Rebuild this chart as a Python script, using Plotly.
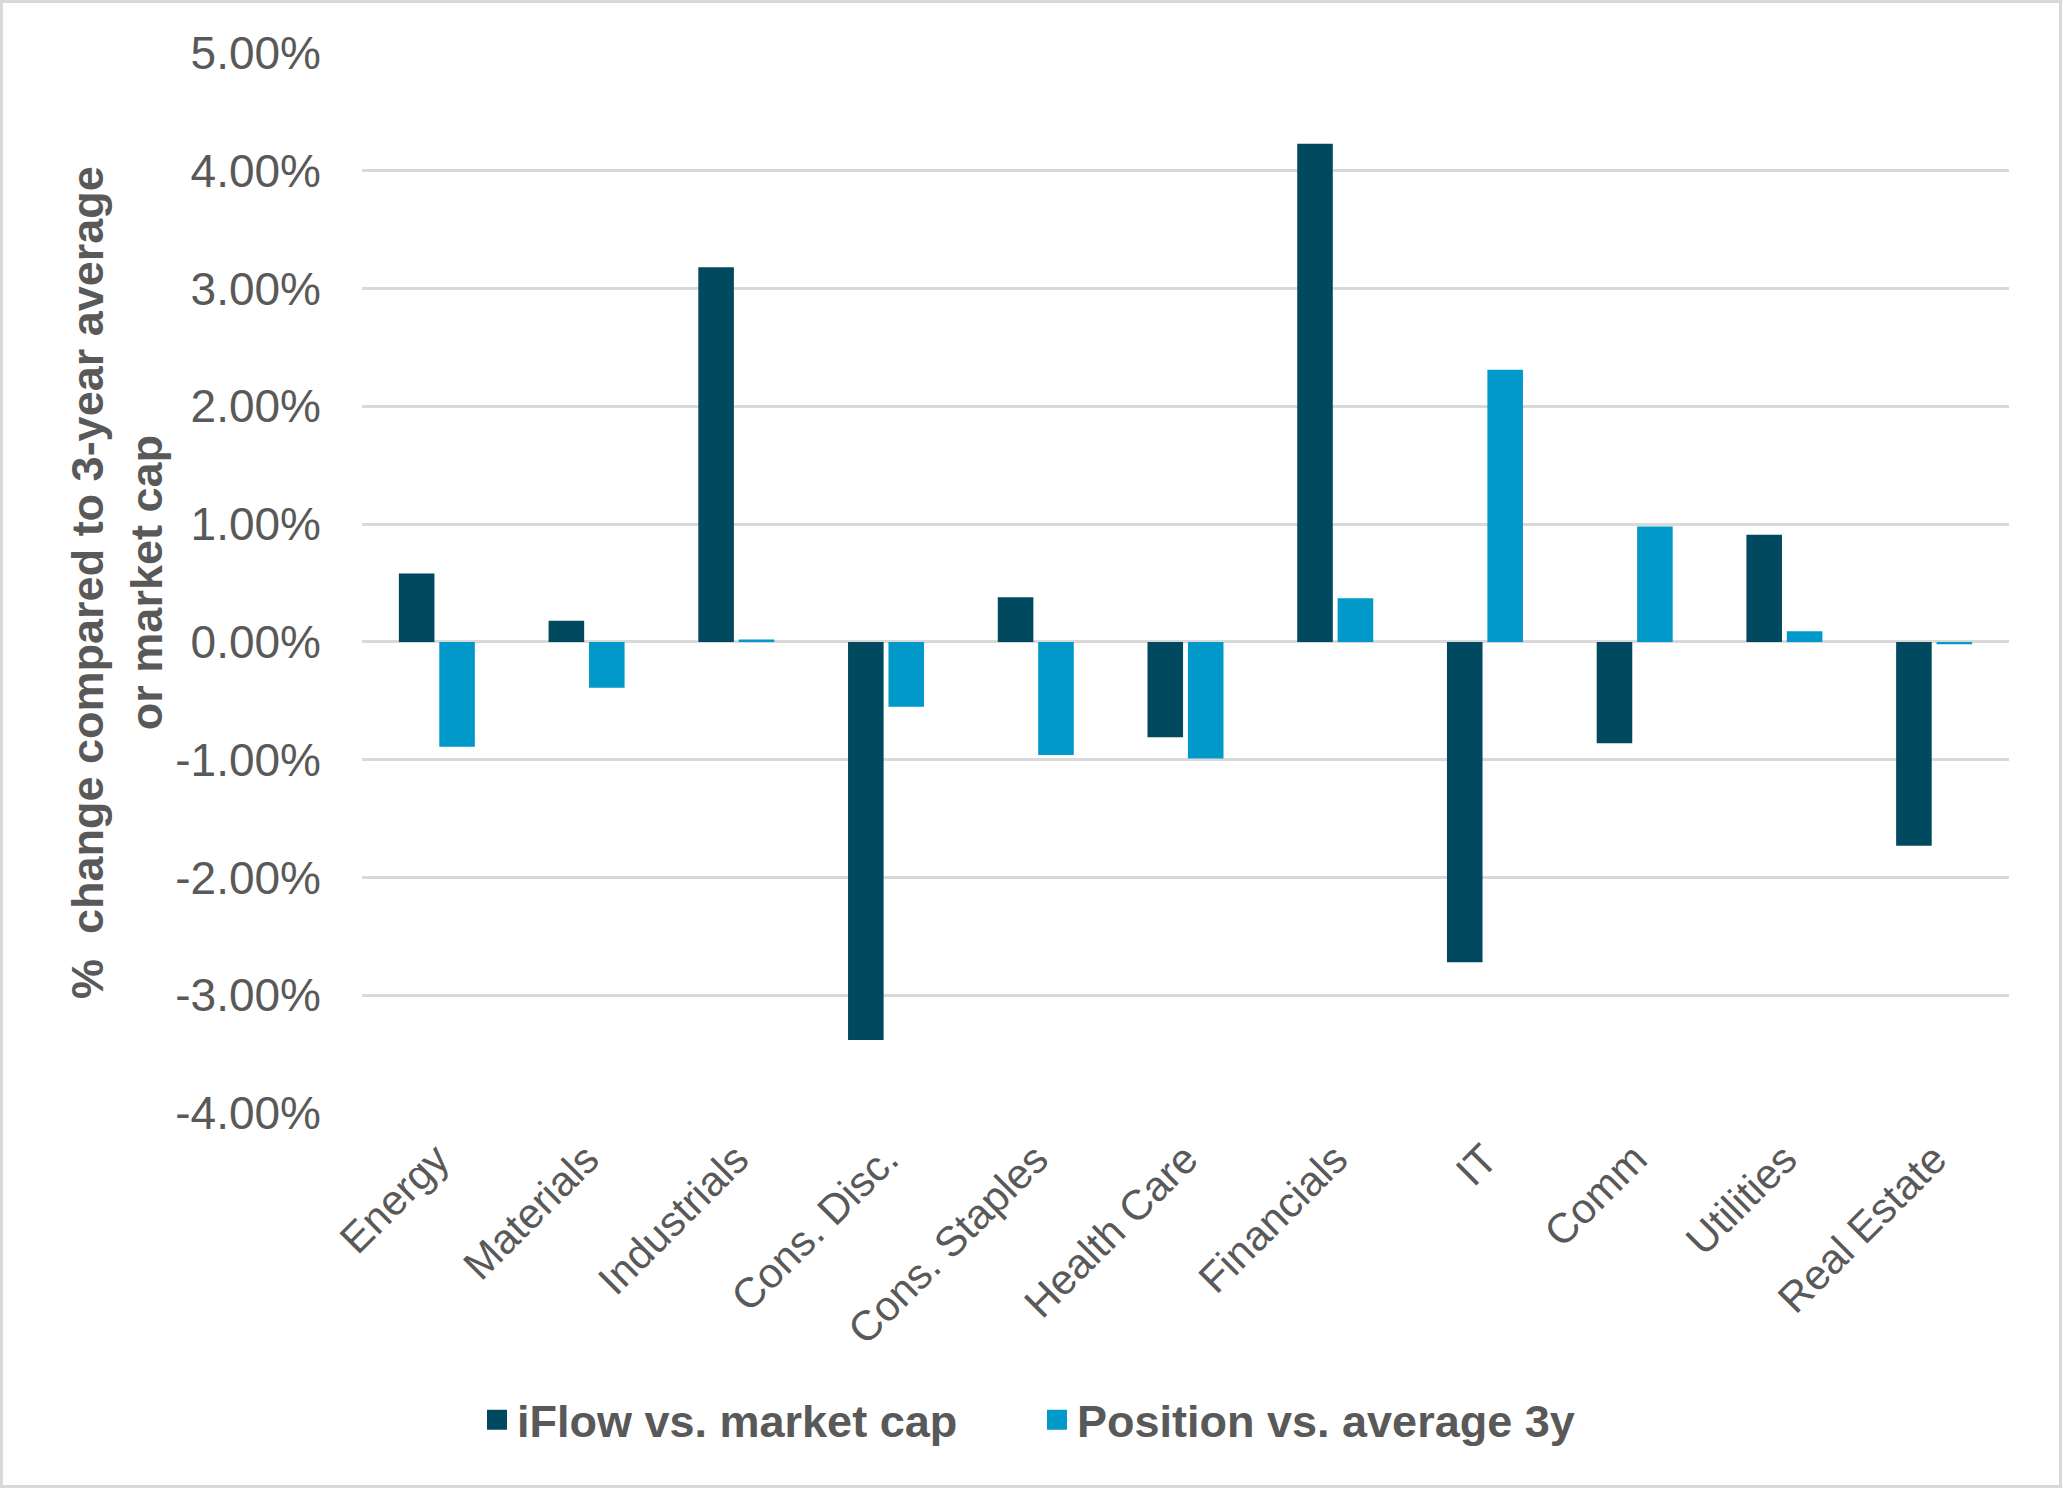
import plotly.graph_objects as go

categories = ["Energy", "Materials", "Industrials", "Cons. Disc.", "Cons. Staples",
              "Health Care", "Financials", "IT", "Comm", "Utilities", "Real Estate"]
iflow_vs_mcap = [0.58, 0.18, 3.18, -3.38, 0.38, -0.81, 4.23, -2.72, -0.86, 0.91, -1.73]
position_vs_avg = [-0.89, -0.39, 0.02, -0.55, -0.96, -0.99, 0.37, 2.31, 0.98, 0.09, -0.02]
series_names = ["iFlow vs. market cap", "Position vs. average 3y"]
tick_vals = [5, 4, 3, 2, 1, 0, -1, -2, -3, -4]
tick_text = [f"{v:.2f}%" for v in tick_vals]

W, H = 2062, 1488
L, R, T, B = 362, 53, 53, 375
pw, ph = W - L - R, H - T - B

font_family = "Liberation Sans, Arial, sans-serif"
grey = "#595959"
colors = ["#00495F", "#0099C9"]

fig = go.Figure()
for vals, name, col in zip([iflow_vs_mcap, position_vs_avg], series_names, colors):
    fig.add_trace(go.Bar(x=categories, y=vals, name=name, showlegend=False,
                         marker=dict(color=col, line=dict(width=0))))
# legend entries with bigger square keys
for name, col in zip(series_names, colors):
    fig.add_trace(go.Scatter(x=[None], y=[None], mode="markers", name=name,
                             marker=dict(symbol="square", size=16, color=col,
                                         line=dict(width=4, color=col))))

fig.update_layout(
    width=W, height=H,
    margin=dict(l=L, r=R, t=T, b=B),
    paper_bgcolor="white", plot_bgcolor="white",
    font=dict(family=font_family, size=44, color=grey),
    barmode="group", bargap=0.46, bargroupgap=0.12,
    showlegend=True,
    legend=dict(
        orientation="h",
        x=(477 - L) / pw, xanchor="left",
        y=(H - B - 1420) / ph, yanchor="middle",
        font=dict(size=45, color=grey, family=font_family, weight="bold"),
        itemsizing="trace",
        entrywidth=515, entrywidthmode="pixels",
    ),
)

fig.update_xaxes(
    tickangle=-45,
    tickfont=dict(size=42, color=grey),
    showgrid=False, showline=False, ticks="",
    ticklabelstandoff=12,
)
fig.update_yaxes(
    range=[-4, 5],
    tickvals=tick_vals, ticktext=tick_text,
    tickfont=dict(size=46, color=grey),
    showgrid=True, gridcolor="#D9D9D9", gridwidth=2.5,
    zeroline=True, zerolinecolor="#D9D9D9", zerolinewidth=2.5,
    showline=False, ticks="",
    ticklabelstandoff=40,
)

fig.add_annotation(
    text="%  change compared to 3-year average<br>or market cap",
    xref="paper", yref="paper",
    x=(117 - L) / pw, y=0.5,
    xanchor="center", yanchor="middle",
    textangle=-90, showarrow=False,
    font=dict(size=45, color=grey, family=font_family, weight="bold"),
)

# thin grey frame round the whole chart
fig.add_shape(
    type="rect", xref="paper", yref="paper",
    x0=(1.5 - L) / pw, x1=(W - 1.5 - L) / pw,
    y0=(H - B - (H - 1.5)) / ph, y1=(H - B - 1.5) / ph,
    line=dict(color="#D9D9D9", width=3), layer="below",
)

fig.write_html("out.html", config={"displayModeBar": False},
               post_script="document.body.style.margin='0';")
